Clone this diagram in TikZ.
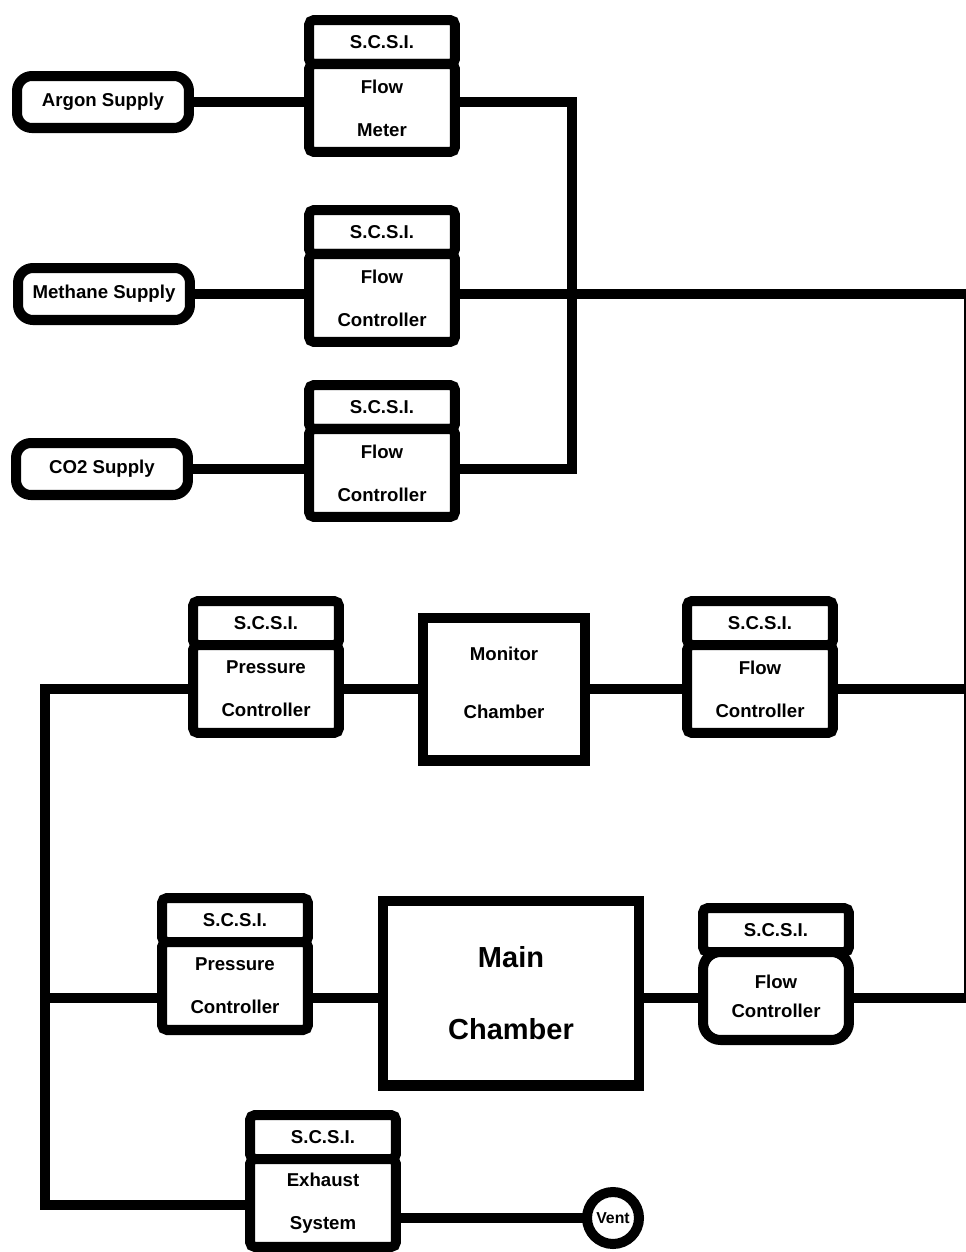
\documentclass[tikz,border=0pt]{standalone}
\usepackage{fontspec}
\setmainfont{Liberation Sans}
\usetikzlibrary{positioning}

\begin{document}
\begin{tikzpicture}[x=0.02cm, y=-0.02cm,
    every node/.style={font=\bfseries\fontsize{10.6}{12}\selectfont},
    pipe/.style={line width=5.7pt},
    box/.style={draw, line width=5.7pt, outer sep=0pt, inner sep=0pt, fill=white},
    supply/.style={box, rounded corners=0.3cm, minimum width=3.44cm, minimum height=1.04cm},
    scsihead/.style={box, rounded corners=0.1cm, minimum width=2.92cm, minimum height=0.88cm},
    scsibody/.style={box, rounded corners=0.1cm, minimum width=2.92cm, minimum height=1.76cm,
        align=center, font=\bfseries\fontsize{10.6}{24.4}\selectfont},
    chamber/.style={box, align=center},
    vent/.style={box, circle, minimum size=1.04cm, font=\bfseries\fontsize{9}{10}\selectfont}]

    \useasboundingbox (0,0) rectangle (965,1252);

    % Gas supplies
    \node[supply] (argon) at (103,102) {Argon Supply};
    \node[supply] (methane) at (104,294) {Methane Supply};
    \node[supply] (co2) at (102,469) {CO2 Supply};

    % S.C.S.I. units on the supply lines
    \node[scsihead] (fm1h) at (382,42) {S.C.S.I.};
    \node[scsibody, below=0pt of fm1h] (fm1b) {Flow\\Meter};
    \node[scsihead] (fc1h) at (382,232) {S.C.S.I.};
    \node[scsibody, below=0pt of fc1h] (fc1b) {Flow\\Controller};
    \node[scsihead] (fc2h) at (382,407) {S.C.S.I.};
    \node[scsibody, below=0pt of fc2h] (fc2b) {Flow\\Controller};

    % Monitor chamber line
    \node[scsihead] (pc1h) at (266,623) {S.C.S.I.};
    \node[scsibody, below=0pt of pc1h] (pc1b) {Pressure\\Controller};
    \node[chamber, minimum width=3.24cm, minimum height=2.86cm, text depth=0.25cm,
        font=\bfseries\fontsize{10.6}{33.5}\selectfont] (mon) at (504,689) {Monitor\\Chamber};
    \node[scsihead] (fc3h) at (760,623) {S.C.S.I.};
    \node[scsibody, below=0pt of fc3h] (fc3b) {Flow\\Controller};

    % Main chamber line
    \node[scsihead] (pc2h) at (235,920) {S.C.S.I.};
    \node[scsibody, below=0pt of pc2h] (pc2b) {Pressure\\Controller};
    \node[chamber, minimum width=5.14cm, minimum height=3.7cm,
        font=\bfseries\fontsize{16.5}{41.4}\selectfont] (main) at (511,993) {Main\\Chamber};
    \node[scsihead] (fc4h) at (776,930) {S.C.S.I.};
    \node[scsibody, below=0pt of fc4h, rounded corners=0.35cm,
        font=\bfseries\fontsize{10.6}{16.4}\selectfont] (fc4b) {Flow\\Controller};

    % Exhaust
    \node[scsihead] (exh) at (323,1137) {S.C.S.I.};
    \node[scsibody, below=0pt of exh] (exb) {Exhaust\\System};
    \node[vent] (vent) at (613,1218) {Vent};

    % Pipe coordinates
    \coordinate (mix) at (572,294);
    \coordinate (rim) at (969,0);
    \coordinate (row1) at (45,689);
    \coordinate (row2) at (45,998);
    \coordinate (row3) at (45,1205);

    % Supplies into the meters
    \draw[pipe] (argon.east) -- (argon -| fm1b.west);
    \draw[pipe] (methane.east) -- (methane -| fc1b.west);
    \draw[pipe] (co2.east) -- (co2 -| fc2b.west);

    % Mixing manifold and feed down the right side
    \draw[pipe] (argon -| fm1b.east) -| (mix) |- (co2 -| fc2b.east);
    \draw[pipe] (methane -| fc1b.east) -- (methane -| rim) |- (fc4b.east |- row2);

    % Monitor line
    \draw[pipe] (fc3b.east |- row1) -- (rim |- row1);
    \draw[pipe] (mon.east |- row1) -- (fc3b.west |- row1);
    \draw[pipe] (pc1b.east |- row1) -- (mon.west |- row1);

    % Main line
    \draw[pipe] (fc4b.west |- row2) -- (main.east |- row2);
    \draw[pipe] (pc2b.east |- row2) -- (main.west |- row2);

    % Return trunk to the exhaust
    \draw[pipe] (pc1b.west |- row1) -- (row1) -- (row3) -- (exb.west |- row3);
    \draw[pipe] (row2) -- (pc2b.west |- row2);
    \draw[pipe] (exb.east |- vent) -- (vent.west);
\end{tikzpicture}
\end{document}
